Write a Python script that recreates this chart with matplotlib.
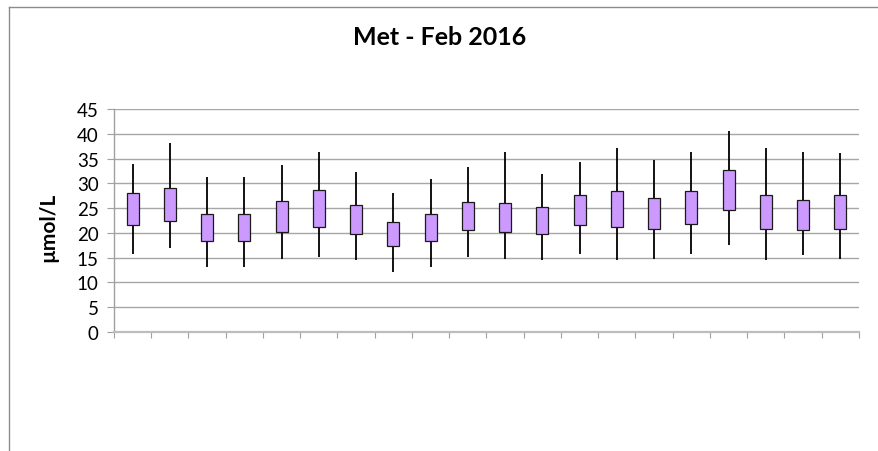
import matplotlib
matplotlib.use("Agg")
import matplotlib.pyplot as plt
from matplotlib.lines import Line2D
import numpy as np

# Daily Met readings (µmol/L): whisker range and box range per sample
low    = [15.8, 16.9, 13.2, 13.2, 14.8, 15.2, 14.6, 12.1, 13.2, 15.2,
          14.8, 14.5, 15.8, 14.5, 14.8, 15.8, 17.6, 14.5, 15.5, 14.8]
box_lo = [21.5, 22.5, 18.4, 18.4, 20.1, 21.2, 19.8, 17.3, 18.4, 20.5,
          20.1, 19.7, 21.5, 21.2, 20.8, 21.8, 24.6, 20.8, 20.5, 20.8]
box_hi = [28.1, 29.1, 23.9, 23.9, 26.4, 28.7, 25.7, 22.2, 23.9, 26.3,
          26.0, 25.3, 27.7, 28.4, 27.0, 28.4, 32.6, 27.7, 26.7, 27.7]
high   = [34.0, 38.1, 31.3, 31.3, 33.6, 36.4, 32.2, 28.1, 30.8, 33.3,
          36.4, 31.9, 34.3, 37.1, 34.7, 36.4, 40.6, 37.1, 36.4, 36.1]

title = "Met - Feb 2016"
ylabel = "µmol/L"
yticks = [0, 5, 10, 15, 20, 25, 30, 35, 40, 45]

W, H, DPI = 879, 452, 100
fig = plt.figure(figsize=(W / DPI, H / DPI), dpi=DPI)
fig.patch.set_facecolor("white")

# chart-area frame (top and left edges)
fx, fy = 8.5 / W, 1 - 7.5 / H
fig.lines.append(Line2D([fx, 1.0], [fy, fy], transform=fig.transFigure,
                        color="#8c8c8c", linewidth=1.0))
fig.lines.append(Line2D([fx, fx], [0.0, fy], transform=fig.transFigure,
                        color="#8c8c8c", linewidth=1.0))

ax = fig.add_axes([114 / W, 1 - 333 / H, (859 - 114) / W, (333 - 110) / H])

n = len(low)
x = np.arange(n) + 0.5
ax.vlines(x, low, high, colors="black", linewidth=1.3, zorder=3)
ax.bar(x, np.array(box_hi) - np.array(box_lo), bottom=box_lo, width=0.32,
       color="#cc99ff", edgecolor="#1a1a1a", linewidth=0.9, zorder=4)

ax.set_xlim(0, n)
ax.set_ylim(0, 45)
ax.set_yticks(yticks)
ax.set_xticks(np.arange(n + 1))
ax.set_xticklabels([])
ax.yaxis.grid(True, color="#a6a6a6", linewidth=1.0)
ax.set_axisbelow(True)

for side in ("top", "right"):
    ax.spines[side].set_visible(False)
ax.spines["left"].set_color("#a0a0a0")
ax.spines["left"].set_linewidth(1.0)
ax.spines["bottom"].set_color("#bdbdbd")
ax.spines["bottom"].set_linewidth(1.6)

ax.tick_params(axis="y", length=5, width=0.8, color="#a0a0a0", pad=6,
               labelsize=13.5)
ax.tick_params(axis="x", length=4.3, width=0.8, color="#a0a0a0")
for lab in ax.get_yticklabels():
    lab.set_fontfamily("Lato")

ax.set_ylabel(ylabel, fontsize=15, fontweight="bold", family="Lato")
ax.yaxis.set_label_coords(-56 / 745, 0.475)
fig.text(0.5, 1 - 37.5 / H, title, ha="center", va="center", fontsize=18,
         fontweight="bold", family="Lato")

fig.savefig("out.png", dpi=DPI)
